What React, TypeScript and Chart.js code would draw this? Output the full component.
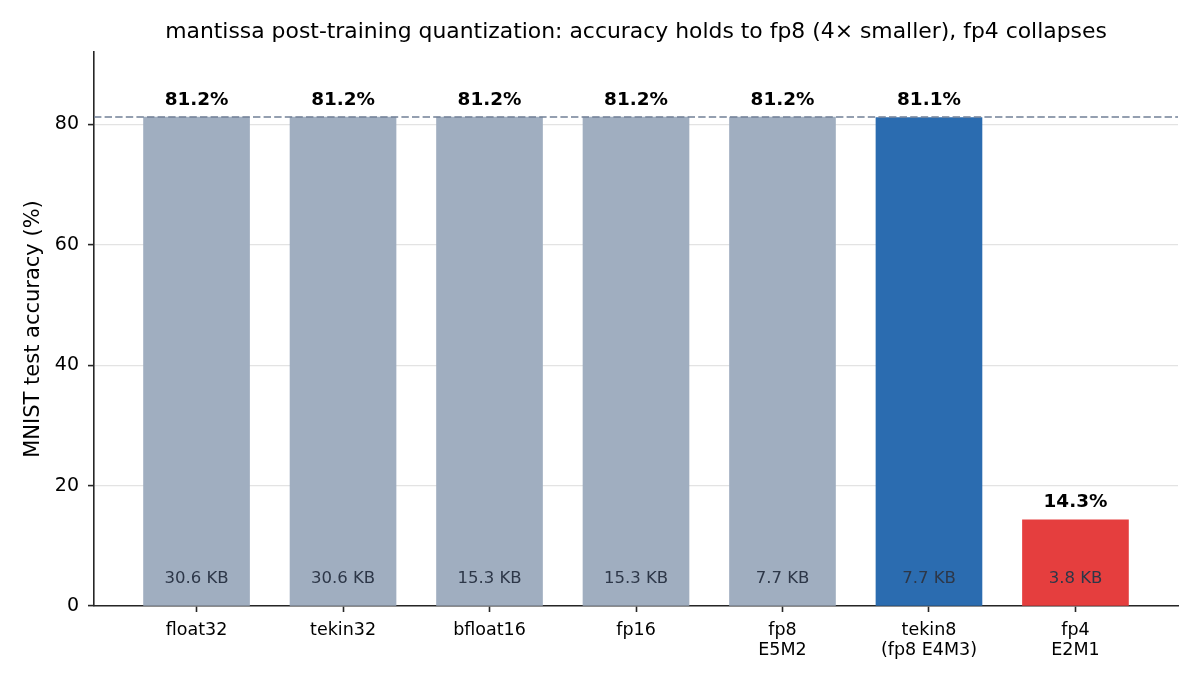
import React, { useEffect, useRef } from 'react'
import { Chart, registerables, ChartConfiguration, Plugin } from 'chart.js'

Chart.register(...registerables)

const formats = [
  ['float32'],
  ['tekin32'],
  ['bfloat16'],
  ['fp16'],
  ['fp8', 'E5M2'],
  ['tekin8', '(fp8 E4M3)'],
  ['fp4', 'E2M1'],
]
const accuracy = [81.2, 81.2, 81.2, 81.2, 81.2, 81.1, 14.3]
const sizesKB = [30.6, 30.6, 15.3, 15.3, 7.7, 7.7, 3.8]
const yTicks = [0, 20, 40, 60, 80]
const float32Baseline = 81.2

const FONT = '"DejaVu Sans", sans-serif'
const titleText = 'mantissa post-training quantization: accuracy holds to fp8 (4× smaller), fp4 collapses'

const barColor = (i: number) => (i === 5 ? '#2b6cb0' : i === 6 ? '#e53e3e' : '#a0aec0')

const annotate: Plugin<'bar'> = {
  id: 'annotate',
  afterDatasetsDraw(chart) {
    const { ctx, chartArea, scales } = chart
    const by = scales.y.getPixelForValue(float32Baseline)
    ctx.save()
    ctx.setLineDash([7.4, 3.2])
    ctx.strokeStyle = '#718096'
    ctx.lineWidth = 1.6
    ctx.beginPath()
    ctx.moveTo(chartArea.left, by)
    ctx.lineTo(chartArea.right, by)
    ctx.stroke()
    ctx.setLineDash([])

    const meta = chart.getDatasetMeta(0)
    meta.data.forEach((bar, i) => {
      ctx.textAlign = 'center'
      ctx.font = `bold 18.4px ${FONT}`
      ctx.fillStyle = '#000'
      ctx.textBaseline = 'bottom'
      ctx.fillText(`${accuracy[i].toFixed(1)}%`, bar.x, bar.y - 8)
      ctx.font = `16.5px ${FONT}`
      ctx.fillStyle = '#2d3748'
      ctx.textBaseline = 'middle'
      ctx.fillText(`${sizesKB[i].toFixed(1)} KB`, bar.x, chartArea.bottom - 27)
    })

    // title + y axis title
    ctx.fillStyle = '#000'
    ctx.font = `21.9px ${FONT}`
    ctx.textBaseline = 'middle'
    ctx.fillText(titleText, (chartArea.left + chartArea.right) / 2, 32)
    ctx.translate(34, (chartArea.top + chartArea.bottom) / 2)
    ctx.rotate(-Math.PI / 2)
    ctx.font = `21px ${FONT}`
    ctx.fillText('MNIST test accuracy (%)', 0, 0)
    ctx.restore()
  },
}

const App = () => {
  const chartRef = useRef<HTMLCanvasElement>(null)
  const chartInstance = useRef<Chart<'bar'>>()

  useEffect(() => {
    document.body.style.margin = '0'
    if (!chartRef.current) return
    const ctx = chartRef.current.getContext('2d')
    if (!ctx) return

    const config: ChartConfiguration<'bar', { x: number; y: number }[], string> = {
      type: 'bar',
      data: {
        datasets: [
          {
            data: accuracy.map((v, i) => ({ x: i, y: v })),
            backgroundColor: accuracy.map((_, i) => barColor(i)),
            barThickness: 106,
            borderWidth: 0,
          },
        ],
      },
      options: {
        responsive: false,
        animation: false,
        layout: { padding: { top: 52, right: 22, left: 0, bottom: 0 } },
        plugins: {
          legend: { display: false },
          tooltip: { enabled: false },
          title: { display: false },
        },
        scales: {
          x: {
            type: 'linear',
            min: -0.7,
            max: 6.7,
            offset: false,
            afterBuildTicks: (s) => {
              s.ticks = formats.map((_, i) => ({ value: i }))
            },
            afterFit: (s) => {
              s.height = 84
            },
            ticks: {
              callback: (v) => formats[Number(v)],
              font: { family: FONT, size: 17.5, lineHeight: 1.17 },
              color: '#000',
              padding: 8,
              autoSkip: false,
              maxRotation: 0,
            },
            grid: {
              offset: false,
              drawOnChartArea: false,
              drawTicks: true,
              tickLength: 6,
              tickColor: '#262626',
              tickWidth: 1.6,
            },
            border: { display: true, color: '#262626', width: 1.6 },
          },
          y: {
            min: 0,
            max: 92,
            afterBuildTicks: (s) => {
              s.ticks = yTicks.map((v) => ({ value: v }))
            },
            afterFit: (s) => {
              s.width = 94
            },
            ticks: {
              font: { family: FONT, size: 19 },
              color: '#000',
              padding: 9,
            },
            grid: {
              color: '#e3e3e3',
              lineWidth: 1.2,
              drawTicks: true,
              tickLength: 6,
              tickColor: '#262626',
              tickWidth: 1.6,
            },
            border: { display: true, color: '#262626', width: 1.6 },
          },
        },
      },
      plugins: [annotate],
    }
    chartInstance.current = new Chart(ctx, config)

    return () => {
      if (chartInstance.current) {
        chartInstance.current.destroy()
      }
    }
  }, [])

  return (
    <div style={{ width: 1200, height: 690 }}>
      <canvas ref={chartRef} width={1200} height={690} />
    </div>
  )
}

export default App
